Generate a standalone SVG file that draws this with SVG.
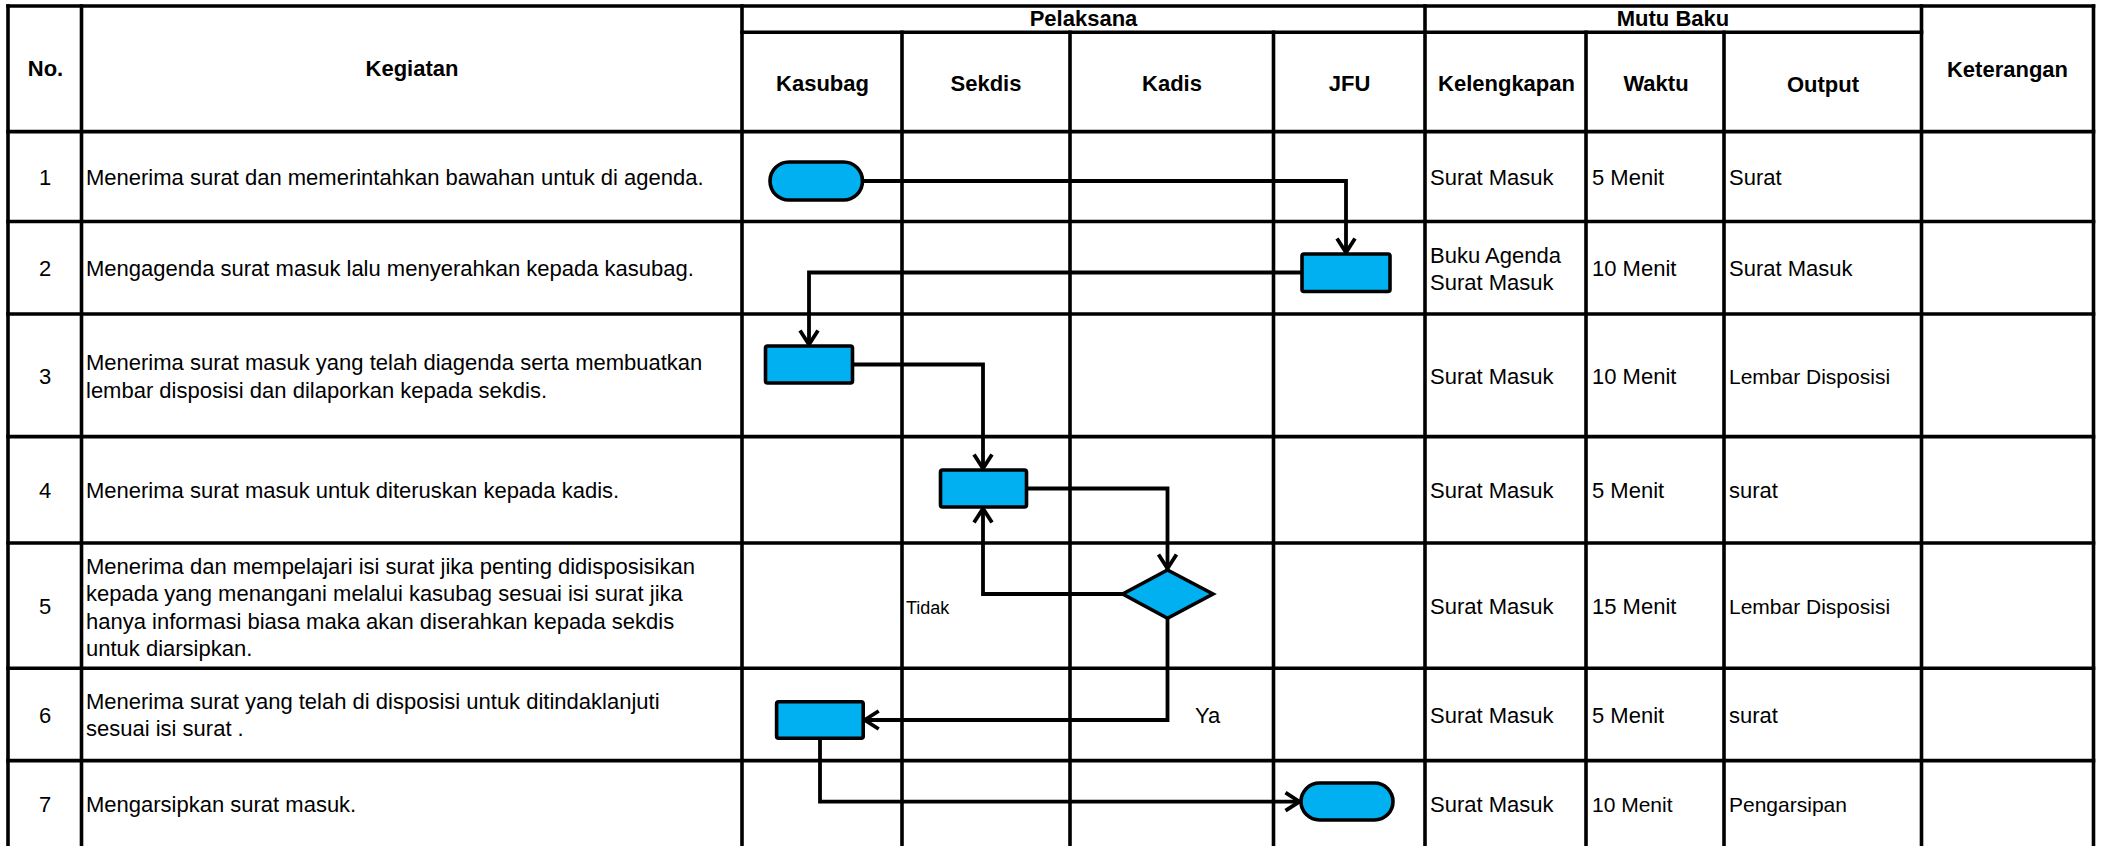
<svg xmlns="http://www.w3.org/2000/svg" width="2105" height="846" viewBox="0 0 2105 846">
<style>
.grid line{stroke:#000;stroke-width:3.6;stroke-linecap:square}
text{font-family:"Liberation Sans",Arial,sans-serif;font-size:22px;fill:#000}
.h{font-weight:bold;text-anchor:middle}
.c{text-anchor:middle}
.s21{font-size:21px}
.shape{fill:#00B0F0;stroke:#000;stroke-width:3.6}
.conn path{fill:none;stroke:#000;stroke-width:3.8;stroke-linejoin:miter}
</style>
<defs>
<marker id="arr" markerUnits="userSpaceOnUse" markerWidth="24" markerHeight="24" viewBox="-20 -12 24 24" refX="0" refY="0" orient="auto">
<path d="M-15.5,-9 L-1.5,0 L-15.5,9" fill="none" stroke="#000" stroke-width="3.8" stroke-linejoin="miter"/>
</marker>
</defs>
<rect x="0" y="0" width="2105" height="846" fill="#fff"/>
<g id="table" class="grid">
<line x1="8" y1="6" x2="2093.5" y2="6"/>
<line x1="742" y1="32.3" x2="1921.5" y2="32.3"/>
<line x1="8" y1="131.6" x2="2093.5" y2="131.6"/>
<line x1="8" y1="221.5" x2="2093.5" y2="221.5"/>
<line x1="8" y1="314" x2="2093.5" y2="314"/>
<line x1="8" y1="436.6" x2="2093.5" y2="436.6"/>
<line x1="8" y1="543" x2="2093.5" y2="543"/>
<line x1="8" y1="668.3" x2="2093.5" y2="668.3"/>
<line x1="8" y1="760.6" x2="2093.5" y2="760.6"/>
<line x1="8" y1="6" x2="8" y2="850"/>
<line x1="81.5" y1="6" x2="81.5" y2="850"/>
<line x1="742" y1="6" x2="742" y2="850"/>
<line x1="902" y1="32.3" x2="902" y2="850"/>
<line x1="1070" y1="32.3" x2="1070" y2="850"/>
<line x1="1273.5" y1="32.3" x2="1273.5" y2="850"/>
<line x1="1425" y1="6" x2="1425" y2="850"/>
<line x1="1586" y1="32.3" x2="1586" y2="850"/>
<line x1="1724" y1="32.3" x2="1724" y2="850"/>
<line x1="1921.5" y1="6" x2="1921.5" y2="850"/>
<line x1="2093.5" y1="6" x2="2093.5" y2="850"/>
</g>
<g id="header">
<text class="h" x="45.5" y="76">No.</text>
<text class="h" x="412" y="76">Kegiatan</text>
<text class="h" x="1083.5" y="26">Pelaksana</text>
<text class="h" x="1673" y="26">Mutu Baku</text>
<text class="h" x="2007.5" y="77">Keterangan</text>
<text class="h" x="822.5" y="91">Kasubag</text>
<text class="h" x="986" y="91">Sekdis</text>
<text class="h" x="1172" y="91">Kadis</text>
<text class="h" x="1349.5" y="91">JFU</text>
<text class="h" x="1506.5" y="91">Kelengkapan</text>
<text class="h" x="1656" y="91">Waktu</text>
<text class="h" x="1823" y="92">Output</text>
</g>
<g id="row1">
<text class="c" x="45" y="185">1</text>
<text x="86" y="185">Menerima surat dan memerintahkan bawahan untuk di agenda.</text>
<text x="1430" y="185">Surat Masuk</text>
<text x="1592" y="185">5 Menit</text>
<text x="1729" y="185">Surat</text>
</g>
<g id="row2">
<text class="c" x="45" y="276">2</text>
<text x="86" y="276">Mengagenda surat masuk lalu menyerahkan kepada kasubag.</text>
<text x="1430" y="263">Buku Agenda</text>
<text x="1430" y="290">Surat Masuk</text>
<text x="1592" y="276">10 Menit</text>
<text x="1729" y="276">Surat Masuk</text>
</g>
<g id="row3">
<text class="c" x="45" y="383.5">3</text>
<text x="86" y="369.5">Menerima surat masuk yang telah diagenda serta membuatkan</text>
<text x="86" y="397.5">lembar disposisi dan dilaporkan kepada sekdis.</text>
<text x="1430" y="383.5">Surat Masuk</text>
<text x="1592" y="383.5">10 Menit</text>
<text class="s21" x="1729" y="383.5">Lembar Disposisi</text>
</g>
<g id="row4">
<text class="c" x="45" y="498">4</text>
<text x="86" y="498">Menerima surat masuk untuk diteruskan kepada kadis.</text>
<text x="1430" y="498">Surat Masuk</text>
<text x="1592" y="498">5 Menit</text>
<text x="1729" y="498">surat</text>
</g>
<g id="row5">
<text class="c" x="45" y="614">5</text>
<text x="86" y="573.5">Menerima dan mempelajari isi surat jika penting didisposisikan</text>
<text x="86" y="601">kepada yang menangani melalui kasubag sesuai isi surat jika</text>
<text x="86" y="628.5">hanya informasi biasa maka akan diserahkan kepada sekdis</text>
<text x="86" y="656">untuk diarsipkan.</text>
<text x="1430" y="614">Surat Masuk</text>
<text x="1592" y="614">15 Menit</text>
<text class="s21" x="1729" y="614">Lembar Disposisi</text>
</g>
<g id="row6">
<text class="c" x="45" y="722.5">6</text>
<text x="86" y="708.5">Menerima surat yang telah di disposisi untuk ditindaklanjuti</text>
<text x="86" y="736.2">sesuai isi surat .</text>
<text x="1430" y="722.5">Surat Masuk</text>
<text x="1592" y="722.5">5 Menit</text>
<text x="1729" y="722.5">surat</text>
</g>
<g id="row7">
<text class="c" x="45" y="812">7</text>
<text x="86" y="812">Mengarsipkan surat masuk.</text>
<text x="1430" y="812">Surat Masuk</text>
<text class="s21" x="1592" y="812">10 Menit</text>
<text class="s21" x="1729" y="812">Pengarsipan</text>
</g>
<g id="connectors" class="conn">
<path d="M862.5,181 H1346 V254" marker-end="url(#arr)"/>
<path d="M1302,272.5 H809 V346" marker-end="url(#arr)"/>
<path d="M852.5,364.5 H983 V470" marker-end="url(#arr)"/>
<path d="M1026.5,488.5 H1167.5 V570" marker-end="url(#arr)"/>
<path d="M1122.7,594 H983 V507" marker-end="url(#arr)"/>
<path d="M1167.5,618.3 V720 H863.2" marker-end="url(#arr)"/>
<path d="M820,738.3 V801.7 H1301" marker-end="url(#arr)"/>
</g>
<g id="labels">
<text x="906" y="613.5" style="font-size:18px">Tidak</text>
<text x="1195" y="722.5">Ya</text>
</g>
<g id="n1"><rect class="shape" x="770" y="162" width="92.5" height="38" rx="19"/></g>
<g id="n2"><rect class="shape" x="1302" y="254" width="88" height="37.5" rx="2"/></g>
<g id="n3"><rect class="shape" x="765.5" y="346" width="87" height="37" rx="2"/></g>
<g id="n4"><rect class="shape" x="940.5" y="470" width="86" height="37" rx="2"/></g>
<g id="n5"><polygon class="shape" points="1167.5,570 1213,594 1167.5,618.3 1122.7,594"/></g>
<g id="n6"><rect class="shape" x="776.6" y="701.7" width="86.6" height="36.6" rx="2"/></g>
<g id="n7"><rect class="shape" x="1301" y="783" width="92" height="37" rx="18.5"/></g>
</svg>
